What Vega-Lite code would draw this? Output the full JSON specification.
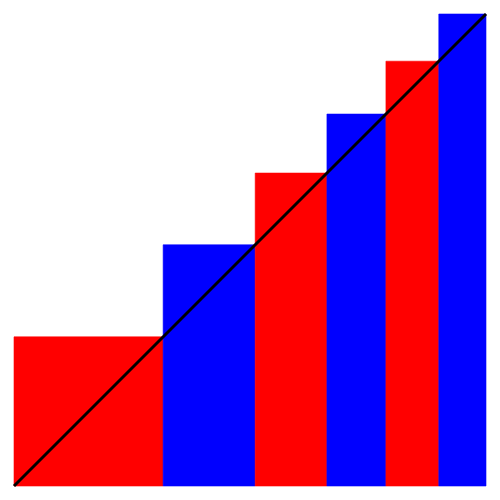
{
  "$schema": "https://vega.github.io/schema/vega-lite/v6.json",
  "width": 472,
  "height": 472,
  "padding": 14,
  "autosize": "none",
  "background": "white",
  "config": {"view": {"stroke": null}},
  "datasets": {
    "bars": [
      {"x0": 0, "x1": 0.316, "h": 0.316, "c": "red"},
      {"x0": 0.316, "x1": 0.511, "h": 0.511, "c": "blue"},
      {"x0": 0.511, "x1": 0.663, "h": 0.663, "c": "red"},
      {"x0": 0.663, "x1": 0.788, "h": 0.788, "c": "blue"},
      {"x0": 0.788, "x1": 0.9, "h": 0.9, "c": "red"},
      {"x0": 0.9, "x1": 1, "h": 1, "c": "blue"}
    ],
    "diag": [
      {"x": 0, "y": 0},
      {"x": 1, "y": 1}
    ]
  },
  "layer": [
    {
      "data": {"name": "bars"},
      "mark": {"type": "rect", "strokeWidth": 0.6},
      "encoding": {
        "x": {"field": "x0", "type": "quantitative", "scale": {"domain": [0, 1], "nice": false}, "axis": null},
        "x2": {"field": "x1"},
        "y": {"field": "h", "type": "quantitative", "scale": {"domain": [0, 1], "nice": false}, "axis": null},
        "y2": {"datum": 0},
        "color": {"field": "c", "type": "nominal", "scale": {"domain": ["red", "blue"], "range": ["#ff0000", "#0000ff"]}, "legend": null},
        "stroke": {"field": "c", "type": "nominal", "scale": {"domain": ["red", "blue"], "range": ["#ff0000", "#0000ff"]}, "legend": null}
      }
    },
    {
      "data": {"name": "diag"},
      "mark": {"type": "line", "color": "black", "strokeWidth": 3},
      "encoding": {
        "x": {"field": "x", "type": "quantitative"},
        "y": {"field": "y", "type": "quantitative"}
      }
    }
  ]
}
